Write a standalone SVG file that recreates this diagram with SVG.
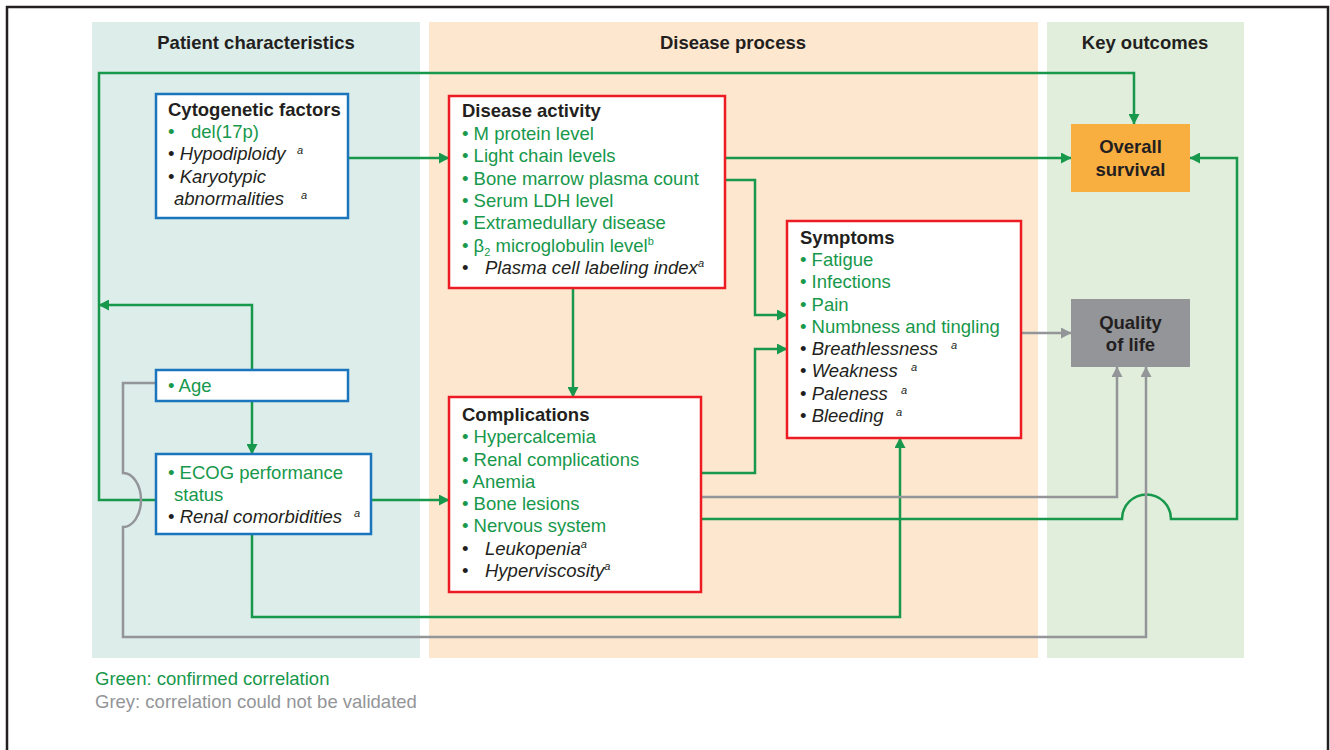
<svg xmlns="http://www.w3.org/2000/svg" width="1330" height="750" viewBox="0 0 1330 750">
<style>
.t{font-family:"Liberation Sans",Arial,sans-serif;font-size:18.5px;fill:#231f20}
.b{font-weight:bold}
.g{fill:#17984b}
.gy{fill:#939598}
.i{font-style:italic}
.s{font-size:11px}
.hdr{text-anchor:middle}
.blue{fill:#fff;stroke:#1b75bc;stroke-width:2.5}
.red{fill:#fff;stroke:#ed1c24;stroke-width:2.5}
.gl{fill:none;stroke:#17984b;stroke-width:2.5}
.gr{fill:none;stroke:#939598;stroke-width:2.5}
.ga{marker-end:url(#ag)}
.gra{marker-end:url(#ar)}
</style>
<defs>
<marker id="ag" markerUnits="userSpaceOnUse" markerWidth="11" markerHeight="11" refX="10" refY="5.5" orient="auto" viewBox="0 0 11 11">
<path d="M0,0 L10.5,5.5 L0,11 z" fill="#17984b"/>
</marker>
<marker id="ar" markerUnits="userSpaceOnUse" markerWidth="11" markerHeight="11" refX="10" refY="5.5" orient="auto" viewBox="0 0 11 11">
<path d="M0,0 L10.5,5.5 L0,11 z" fill="#939598"/>
</marker>
</defs>
<rect x="0" y="0" width="1330" height="750" fill="#fff"/>
<rect x="7" y="7" width="1321" height="770" fill="none" stroke="#231f20" stroke-width="2.5"/>

<g id="panels">
<rect x="92" y="22" width="328" height="636" fill="#dcedea"/>
<rect x="429" y="22" width="609" height="636" fill="#fde7cf"/>
<rect x="1047" y="22" width="197" height="636" fill="#e1eedb"/>
<text class="t b hdr" x="256" y="49">Patient characteristics</text>
<text class="t b hdr" x="733" y="49">Disease process</text>
<text class="t b hdr" x="1145" y="49">Key outcomes</text>
</g>

<g id="connectors">
<path class="gl ga" d="M156,500 L99,500 L99,73 L1134,73 L1134,124"/>
<path class="gl ga" d="M252,370 L252,305 L99,305"/>
<path class="gl ga" d="M348,158 L449,158"/>
<path class="gl ga" d="M725,158 L1071,158"/>
<path class="gl ga" d="M725,180 L755,180 L755,315 L787,315"/>
<path class="gl ga" d="M701,473 L755,473 L755,349 L787,349"/>
<path class="gl ga" d="M573,288 L573,397"/>
<path class="gl ga" d="M252,401 L252,454"/>
<path class="gl ga" d="M371,500 L449,500"/>
<path class="gl ga" d="M252,534 L252,617 L900,617 L900,438"/>
<path class="gr gra" d="M701,497 L1117,497 L1117,367"/>
<path class="gl ga" d="M701,519 L1122,519 A24.5,24.5 0 0 1 1171,519 L1237,519 L1237,158 L1190,158"/>
<path class="gr gra" d="M156,383 L123,383 L123,473 A18,27 0 0 1 123,527 L123,637 L1146,637 L1146,367"/>
<path class="gr gra" d="M1021,333 L1071,333"/>
</g>

<g id="cytogenetic-factors">
<rect class="blue" x="156" y="94" width="192" height="124"/>
<text class="t b" x="168" y="116">Cytogenetic factors</text>
<text class="t g" x="168" y="138">•<tspan x="191">del(17p)</tspan></text>
<text class="t" x="168" y="160">• <tspan class="i">Hypodiploidy</tspan></text>
<text class="t i s" x="297" y="154">a</text>
<text class="t" x="168" y="183">• <tspan class="i">Karyotypic</tspan></text>
<text class="t i" x="174" y="205">abnormalities</text>
<text class="t i s" x="301" y="199">a</text>
</g>

<g id="disease-activity">
<rect class="red" x="449" y="96" width="276" height="192"/>
<text class="t b" x="462" y="117">Disease activity</text>
<text class="t g" x="462" y="140">• M protein level</text>
<text class="t g" x="462" y="162">• Light chain levels</text>
<text class="t g" x="462" y="185">• Bone marrow plasma count</text>
<text class="t g" x="462" y="207">• Serum LDH level</text>
<text class="t g" x="462" y="229">• Extramedullary disease</text>
<text class="t g" x="462" y="252">• β<tspan class="s" dy="4">2</tspan><tspan dy="-4"> microglobulin level</tspan><tspan class="s" dy="-7">b</tspan></text>
<text class="t" x="462" y="274">•<tspan class="i" x="485">Plasma cell labeling index</tspan><tspan class="i s" dy="-7">a</tspan></text>
</g>

<g id="symptoms">
<rect class="red" x="787" y="221" width="234" height="217"/>
<text class="t b" x="800" y="244">Symptoms</text>
<text class="t g" x="800" y="266">• Fatigue</text>
<text class="t g" x="800" y="288">• Infections</text>
<text class="t g" x="800" y="311">• Pain</text>
<text class="t g" x="800" y="333">• Numbness and tingling</text>
<text class="t" x="800" y="355">• <tspan class="i">Breathlessness</tspan></text>
<text class="t i s" x="951" y="349">a</text>
<text class="t" x="800" y="377">• <tspan class="i">Weakness</tspan></text>
<text class="t i s" x="911" y="371">a</text>
<text class="t" x="800" y="400">• <tspan class="i">Paleness</tspan></text>
<text class="t i s" x="901" y="394">a</text>
<text class="t" x="800" y="422">• <tspan class="i">Bleeding</tspan></text>
<text class="t i s" x="896" y="416">a</text>
</g>

<g id="age">
<rect class="blue" x="156" y="370" width="192" height="31"/>
<text class="t g" x="168" y="392">• Age</text>
</g>

<g id="ecog">
<rect class="blue" x="156" y="454" width="215" height="80"/>
<text class="t g" x="168" y="479">• ECOG performance</text>
<text class="t g" x="174" y="501">status</text>
<text class="t" x="168" y="523">• <tspan class="i">Renal comorbidities</tspan></text>
<text class="t i s" x="354" y="517">a</text>
</g>

<g id="complications">
<rect class="red" x="449" y="397" width="252" height="195"/>
<text class="t b" x="462" y="421">Complications</text>
<text class="t g" x="462" y="443">• Hypercalcemia</text>
<text class="t g" x="462" y="466">• Renal complications</text>
<text class="t g" x="462" y="488">• Anemia</text>
<text class="t g" x="462" y="510">• Bone lesions</text>
<text class="t g" x="462" y="532">• Nervous system</text>
<text class="t" x="462" y="555">•<tspan class="i" x="485">Leukopenia</tspan><tspan class="i s" dy="-7">a</tspan></text>
<text class="t" x="462" y="577">•<tspan class="i" x="485">Hyperviscosity</tspan><tspan class="i s" dy="-7">a</tspan></text>
</g>

<g id="overall-survival">
<rect x="1071" y="124" width="119" height="68" fill="#f9ae40"/>
<text class="t b hdr" x="1130.5" y="153">Overall</text>
<text class="t b hdr" x="1130.5" y="176">survival</text>
</g>

<g id="quality-of-life">
<rect x="1071" y="299" width="119" height="68" fill="#939598"/>
<text class="t b hdr" x="1130.5" y="329">Quality</text>
<text class="t b hdr" x="1130.5" y="351">of life</text>
</g>

<g id="legend">
<text class="t g" x="95" y="685">Green: confirmed correlation</text>
<text class="t gy" x="95" y="708">Grey: correlation could not be validated</text>
</g>
</svg>
